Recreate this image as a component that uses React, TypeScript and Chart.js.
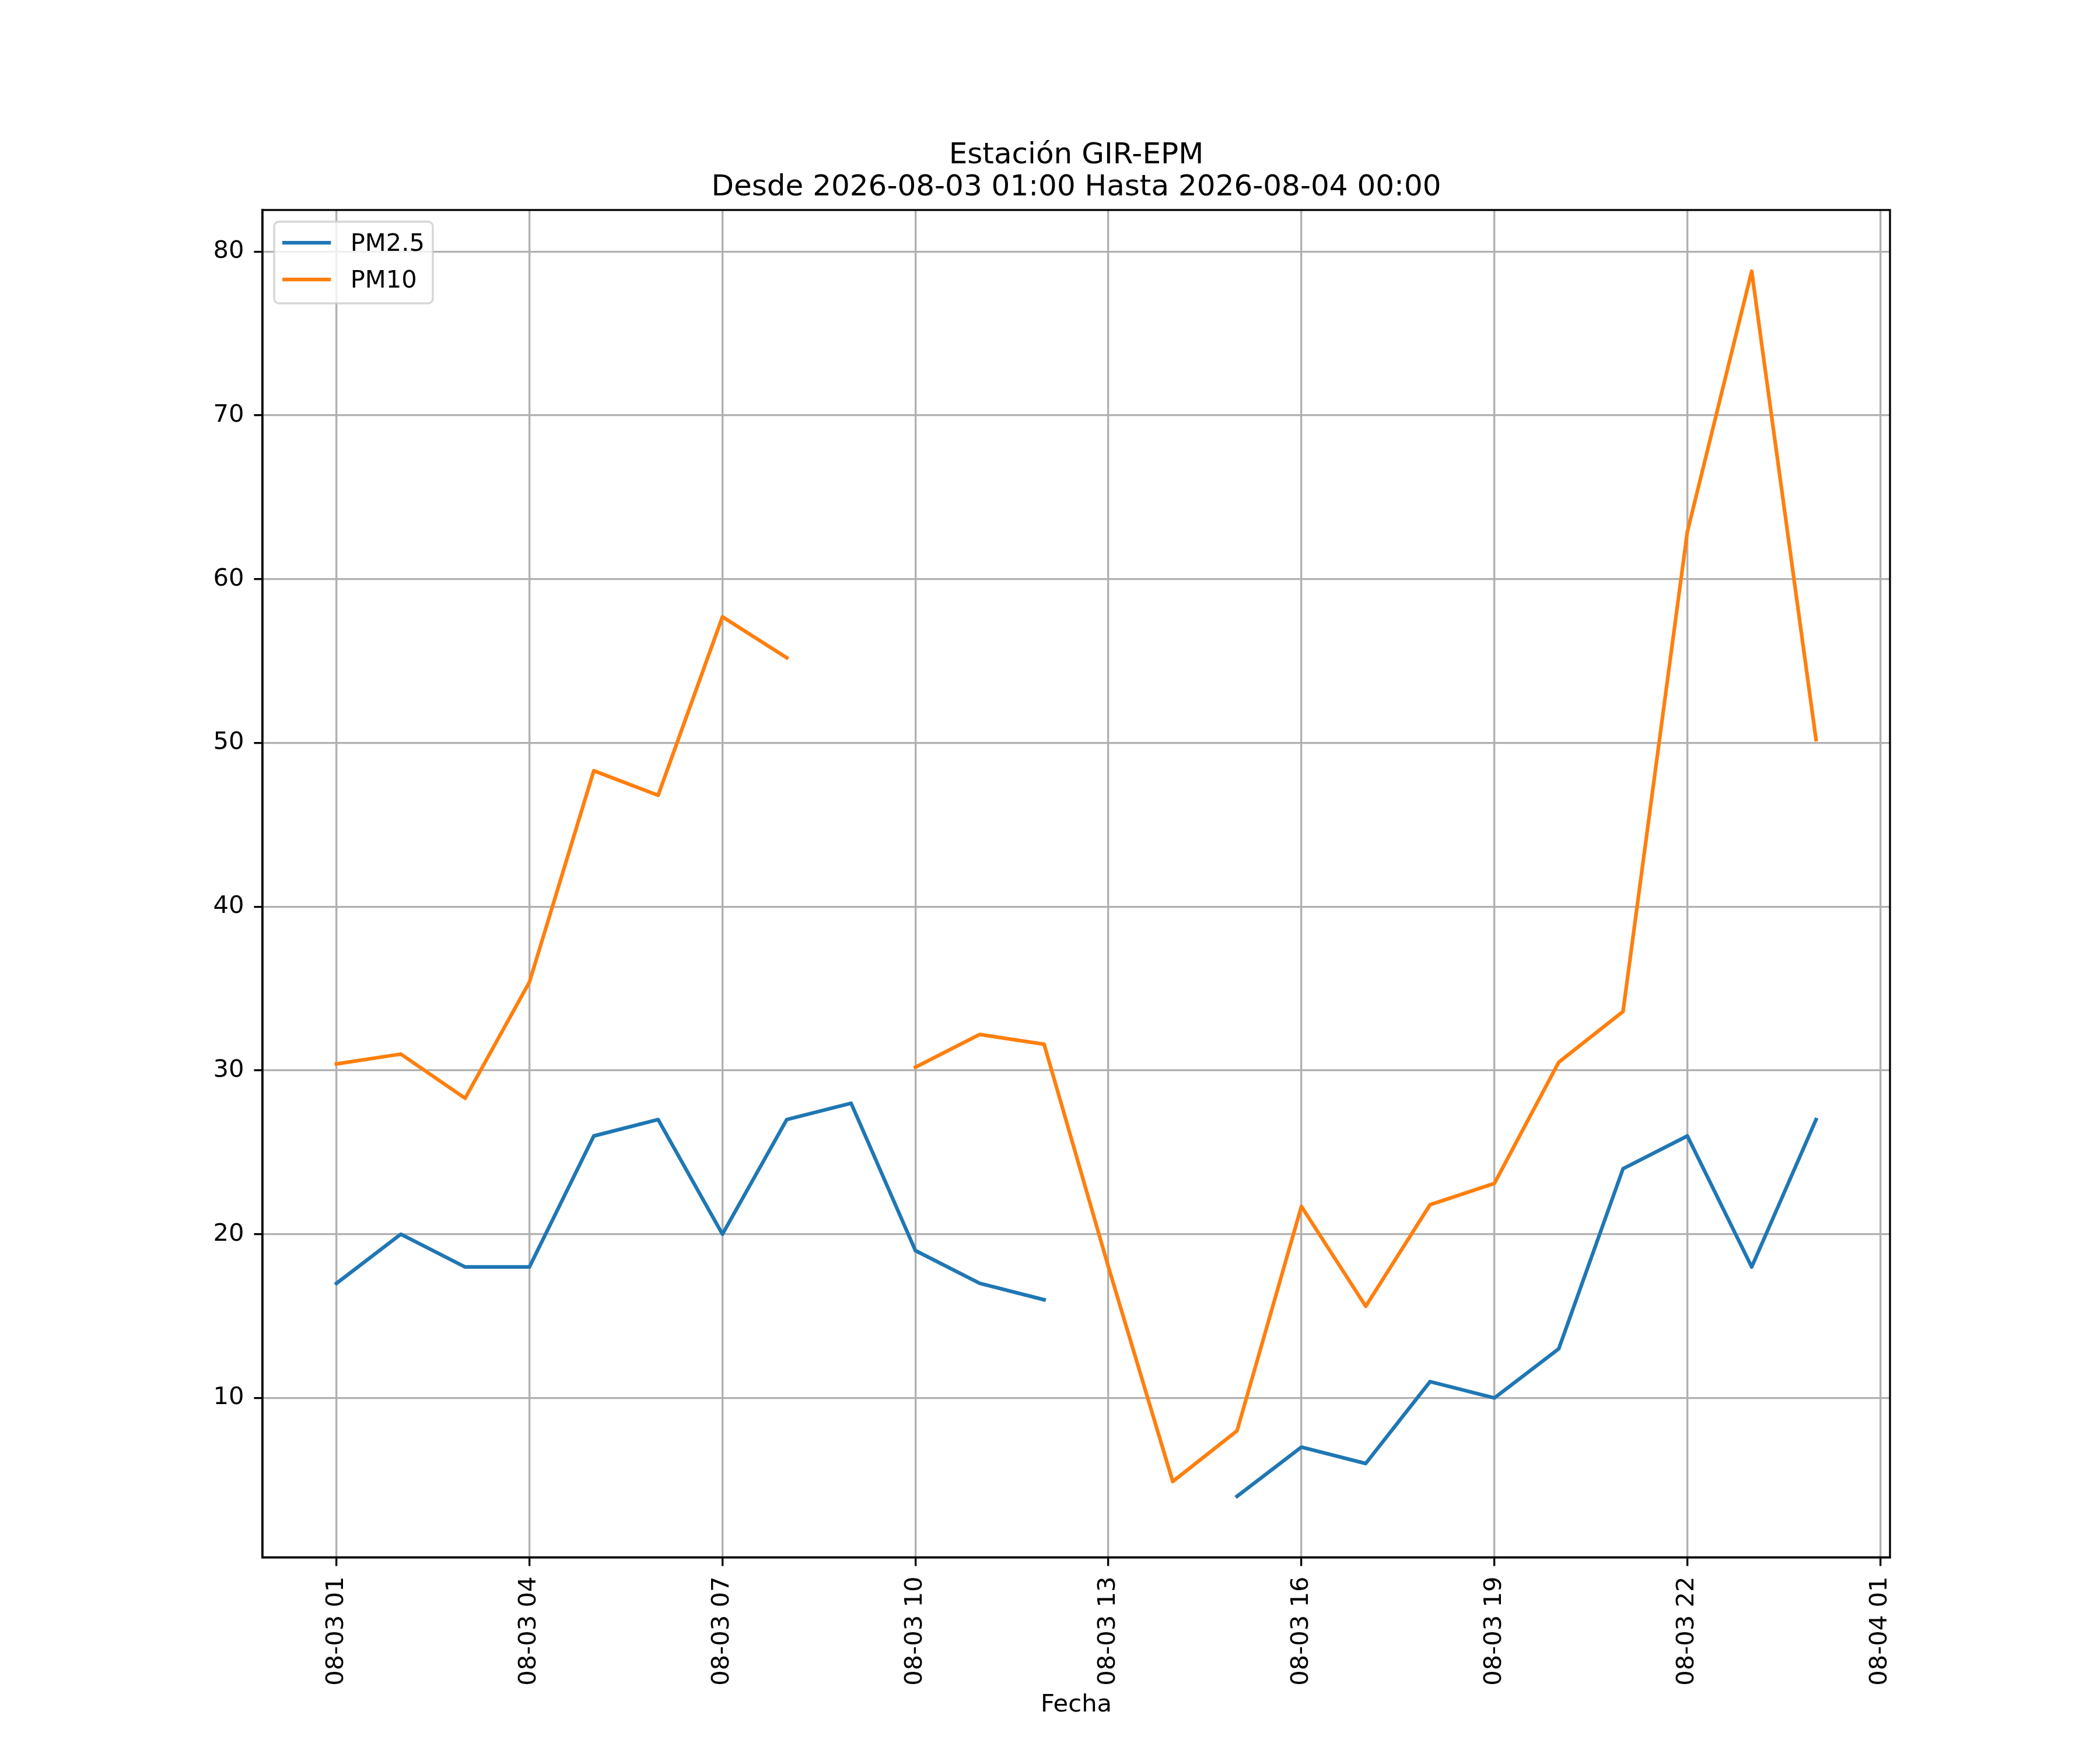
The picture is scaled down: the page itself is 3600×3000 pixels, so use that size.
import { useEffect, useRef } from "react";
import { Chart, registerables, type Plugin } from "chart.js";

Chart.register(...registerables);

// hourly readings, station GIR-EPM
const timestamps = [
  "2026-08-03 01:00", "2026-08-03 02:00", "2026-08-03 03:00", "2026-08-03 04:00",
  "2026-08-03 05:00", "2026-08-03 06:00", "2026-08-03 07:00", "2026-08-03 08:00",
  "2026-08-03 09:00", "2026-08-03 10:00", "2026-08-03 11:00", "2026-08-03 12:00",
  "2026-08-03 13:00", "2026-08-03 14:00", "2026-08-03 15:00", "2026-08-03 16:00",
  "2026-08-03 17:00", "2026-08-03 18:00", "2026-08-03 19:00", "2026-08-03 20:00",
  "2026-08-03 21:00", "2026-08-03 22:00", "2026-08-03 23:00", "2026-08-04 00:00",
];
const pm25 = [17, 20, 18, 18, 26, 27, 20, 27, 28, 19, 17, 16, null, null, 4, 7, 6, 11, 10, 13, 24, 26, 18, 27];
const pm10 = [30.4, 31.0, 28.3, 35.4, 48.3, 46.8, 57.7, 55.2, null, 30.2, 32.2, 31.6, 18.0, 4.9, 8.0, 21.7, 15.6, 21.8, 23.1, 30.5, 33.6, 62.9, 78.8, 50.2];

const seriesNames = ["PM2.5", "PM10"];
const seriesColors = ["#1f77b4", "#ff7f0e"];

const xTickLabels = ["08-03 01", "08-03 04", "08-03 07", "08-03 10", "08-03 13", "08-03 16", "08-03 19", "08-03 22", "08-04 01"];
const yTicks = [10, 20, 30, 40, 50, 60, 70, 80];

const titleLines = ["Estación GIR-EPM", "Desde 2026-08-03 01:00 Hasta 2026-08-04 00:00"];
const xAxisTitle = "Fecha";

const FONT = "DejaVu Sans";
const PT = 300 / 72; // figure was 12x10 in at 300 dpi

// hours since 2026-08-03 00:00
const stampToHours = (s: string) => (Number(s.slice(8, 10)) - 3) * 24 + Number(s.slice(11, 13));
const tickToHours = (s: string) => (Number(s.slice(3, 5)) - 3) * 24 + Number(s.slice(6, 8));

const xs = timestamps.map(stampToHours);
const xTickValues = xTickLabels.map(tickToHours);

function padded(values: number[]) {
  const lo = Math.min(...values);
  const hi = Math.max(...values);
  const m = (hi - lo) * 0.05;
  return [lo - m, hi + m];
}

const [xMin, xMax] = padded(xs);
const [yMin, yMax] = padded([...pm25, ...pm10].filter((v): v is number => v !== null));

const decor: Plugin = {
  id: "mplDecor",
  afterDatasetsDraw(chart) {
    const { ctx, chartArea: a } = chart;
    ctx.save();
    ctx.strokeStyle = "#000";
    ctx.lineWidth = 0.8 * PT;
    ctx.lineJoin = "miter";
    ctx.strokeRect(a.left, a.top, a.right - a.left, a.bottom - a.top);
    ctx.restore();
  },
  afterDraw(chart) {
    const { ctx, chartArea: a } = chart;
    ctx.save();

    // title, two lines centred on the axes
    ctx.fillStyle = "#000";
    ctx.font = `${12 * PT}px "${FONT}"`;
    ctx.textAlign = "center";
    ctx.textBaseline = "alphabetic";
    const cx = (a.left + a.right) / 2;
    const lastBase = a.top - 6 * PT;
    titleLines.forEach((line, i) => {
      ctx.fillText(line, cx, lastBase - (titleLines.length - 1 - i) * 55);
    });

    // legend, upper left inside the axes
    const fs = 10 * PT;
    ctx.font = `${fs}px "${FONT}"`;
    const bx = a.left + 20;
    const by = a.top + 20;
    const textW = Math.max(...seriesNames.map((n) => ctx.measureText(n).width));
    const bw = 14 + 2 * fs + 0.8 * fs + textW + 14;
    const bh = 140;
    ctx.beginPath();
    ctx.roundRect(bx, by, bw, bh, 8);
    ctx.fillStyle = "rgba(255,255,255,0.8)";
    ctx.fill();
    ctx.lineWidth = 1 * PT * 0.8;
    ctx.strokeStyle = "rgba(204,204,204,0.8)";
    ctx.stroke();

    chart.data.datasets.forEach((ds, i) => {
      const rowY = by + 36 + i * 63;
      ctx.beginPath();
      ctx.moveTo(bx + 14, rowY);
      ctx.lineTo(bx + 14 + 2 * fs, rowY);
      ctx.strokeStyle = ds.borderColor as string;
      ctx.lineWidth = 1.5 * PT;
      ctx.lineCap = "butt";
      ctx.stroke();
      ctx.fillStyle = "#000";
      ctx.textAlign = "left";
      ctx.textBaseline = "alphabetic";
      ctx.fillText(ds.label ?? "", bx + 14 + 2 * fs + 0.8 * fs, rowY + 14);
    });

    ctx.restore();
  },
};

export default function App() {
  const canvasRef = useRef<HTMLCanvasElement | null>(null);

  useEffect(() => {
    if (!canvasRef.current) return;
    const ctx = canvasRef.current.getContext("2d");
    if (!ctx) return;

    Chart.defaults.font.family = FONT;
    Chart.defaults.color = "#000";

    const tickFont = { family: FONT, size: 10 * PT, lineHeight: 1.2 };
    const gridOpts = {
      color: "#b0b0b0",
      lineWidth: 0.8 * PT,
      drawTicks: true,
      tickLength: 3.5 * PT,
      tickColor: "#000",
      tickWidth: 0.8 * PT,
    };

    const chart = new Chart(ctx, {
      type: "line",
      data: {
        datasets: [pm25, pm10].map((values, i) => ({
          label: seriesNames[i],
          data: values.map((v, j) => ({ x: xs[j], y: v })),
          borderColor: seriesColors[i],
          backgroundColor: seriesColors[i],
          borderWidth: 1.5 * PT,
          borderJoinStyle: "round" as const,
          borderCapStyle: "square" as const,
          pointRadius: 0,
          tension: 0,
          spanGaps: false,
          order: i === 0 ? 1 : 0,
        })),
      },
      options: {
        responsive: false,
        devicePixelRatio: 1,
        animation: false,
        events: [],
        layout: { padding: { top: 360, right: 360, left: 0, bottom: 0 } },
        plugins: {
          legend: { display: false },
          title: { display: false },
          tooltip: { enabled: false },
        },
        scales: {
          x: {
            type: "linear",
            min: xMin,
            max: xMax,
            bounds: "data",
            grid: gridOpts,
            border: { display: true, color: "#000", width: 0.8 * PT },
            afterBuildTicks: (scale) => {
              scale.ticks = xTickValues.map((value) => ({ value }));
            },
            afterFit: (scale) => {
              scale.height = 330;
            },
            ticks: {
              autoSkip: false,
              minRotation: 90,
              maxRotation: 90,
              padding: 18,
              font: tickFont,
              color: "#000",
              callback: (_v, index) => xTickLabels[index],
            },
            title: {
              display: true,
              text: xAxisTitle,
              font: tickFont,
              color: "#000",
              padding: { top: 0, bottom: 52 },
            },
          },
          y: {
            type: "linear",
            min: yMin,
            max: yMax,
            bounds: "data",
            grid: gridOpts,
            border: { display: true, color: "#000", width: 0.8 * PT },
            afterBuildTicks: (scale) => {
              scale.ticks = yTicks.map((value) => ({ value }));
            },
            afterFit: (scale) => {
              scale.width = 450;
            },
            ticks: {
              autoSkip: false,
              padding: 17,
              font: tickFont,
              color: "#000",
              callback: (v) => String(v),
            },
          },
        },
      },
      plugins: [decor],
    });

    return () => {
      chart.destroy();
    };
  }, []);

  return (
    <div style={{ position: "absolute", left: 0, top: 0, width: 3600, height: 3000, background: "#fff" }}>
      <canvas ref={canvasRef} width={3600} height={3000} style={{ display: "block", width: 3600, height: 3000 }} />
    </div>
  );
}
